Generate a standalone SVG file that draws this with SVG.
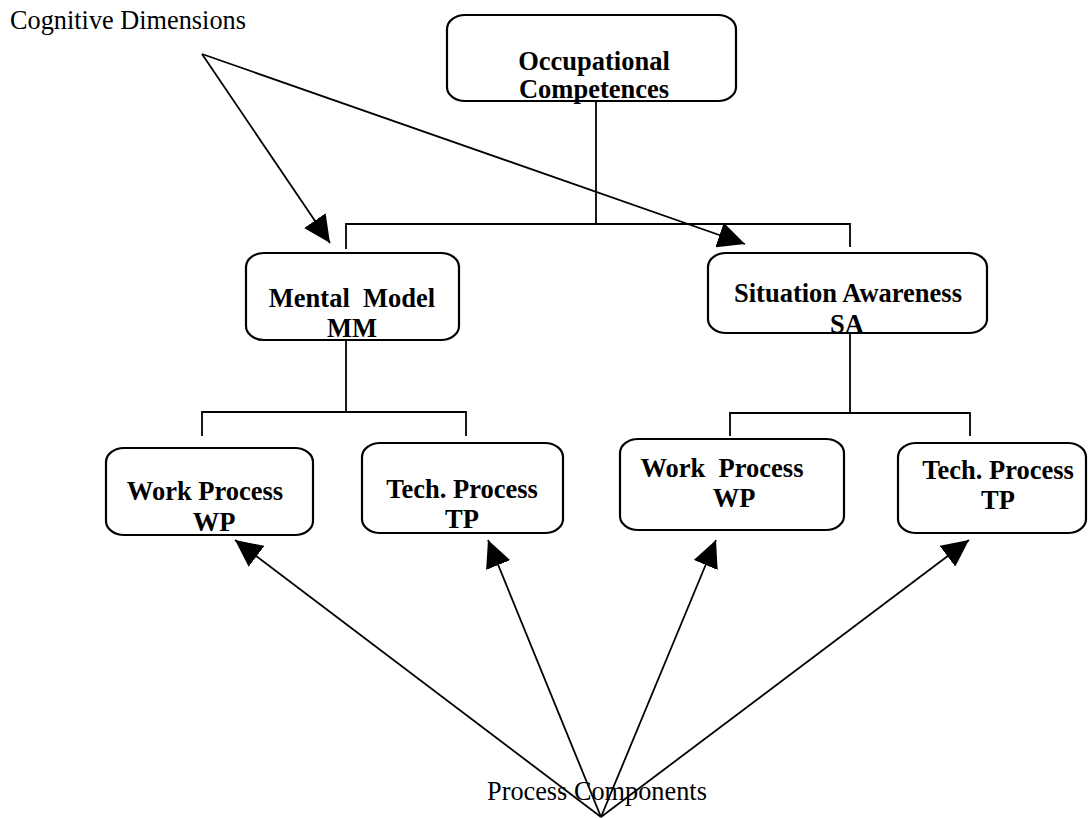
<svg xmlns="http://www.w3.org/2000/svg" width="1089" height="818" viewBox="0 0 1089 818">
<style>
.box{fill:#fff;stroke:#000;stroke-width:2.2}
.lbl{font-family:"Liberation Serif","Times New Roman",serif;font-size:26.5px;font-weight:bold;text-anchor:middle;fill:#000}
.free{font-family:"Liberation Serif","Times New Roman",serif;font-size:26.3px;fill:#000}
.ln{fill:none;stroke:#000;stroke-width:1.8}
.arr{fill:none;stroke:#000;stroke-width:1.8;marker-end:url(#ah)}
</style>
<defs>
<marker id="ah" markerUnits="userSpaceOnUse" markerWidth="28" markerHeight="26" refX="27" refY="13" orient="auto">
<path d="M0,0 L27,13 L0,26 z" fill="#000"/>
</marker>
</defs>
<rect width="1089" height="818" fill="#fff"/>
<g id="connectors">
<path class="ln" d="M596,101 V224 M346,249 V224 H850 V247"/>
<path class="ln" d="M346,340 V412 M202,436 V412 H466 V436"/>
<path class="ln" d="M850,333 V413 M730,436 V413 H970 V436"/>
<line class="arr" x1="202" y1="54" x2="330" y2="243"/>
<line class="arr" x1="202" y1="54" x2="745" y2="244"/>
<line class="arr" x1="601" y1="817" x2="235" y2="540"/>
<line class="arr" x1="601" y1="817" x2="488" y2="540"/>
<line class="arr" x1="601" y1="817" x2="716" y2="540"/>
<line class="arr" x1="601" y1="817" x2="969" y2="540"/>
</g>
<g id="cognitive-dimensions">
<text class="free" x="10" y="29">Cognitive Dimensions</text>
</g>
<g id="process-components">
<text class="free" x="487" y="800">Process Components</text>
</g>
<g id="occupational-competences">
<rect class="box" x="447" y="15" width="289" height="86" rx="18" ry="14"/>
<text class="lbl" x="594" y="70">Occupational</text>
<text class="lbl" x="594" y="98">Competences</text>
</g>
<g id="mental-model">
<rect class="box" x="246" y="253" width="213" height="87" rx="18" ry="14"/>
<text class="lbl" x="352" y="307" xml:space="preserve">Mental  Model</text>
<text class="lbl" x="352" y="337">MM</text>
</g>
<g id="situation-awareness">
<rect class="box" x="708" y="253" width="279" height="80" rx="18" ry="14"/>
<text class="lbl" x="848" y="302">Situation Awareness</text>
<text class="lbl" x="847" y="333">SA</text>
</g>
<g id="work-process-mm">
<rect class="box" x="106" y="448" width="207" height="87" rx="18" ry="14"/>
<text class="lbl" x="205" y="500">Work Process</text>
<text class="lbl" x="214" y="531">WP</text>
</g>
<g id="tech-process-mm">
<rect class="box" x="362" y="443" width="201" height="90" rx="18" ry="14"/>
<text class="lbl" x="462" y="498">Tech. Process</text>
<text class="lbl" x="462" y="528">TP</text>
</g>
<g id="work-process-sa">
<rect class="box" x="620" y="439" width="224" height="91" rx="18" ry="14"/>
<text class="lbl" x="722" y="477" xml:space="preserve">Work  Process</text>
<text class="lbl" x="734" y="507">WP</text>
</g>
<g id="tech-process-sa">
<rect class="box" x="898" y="443" width="188" height="90" rx="18" ry="14"/>
<text class="lbl" x="998" y="479">Tech. Process</text>
<text class="lbl" x="998" y="509">TP</text>
</g>
</svg>
